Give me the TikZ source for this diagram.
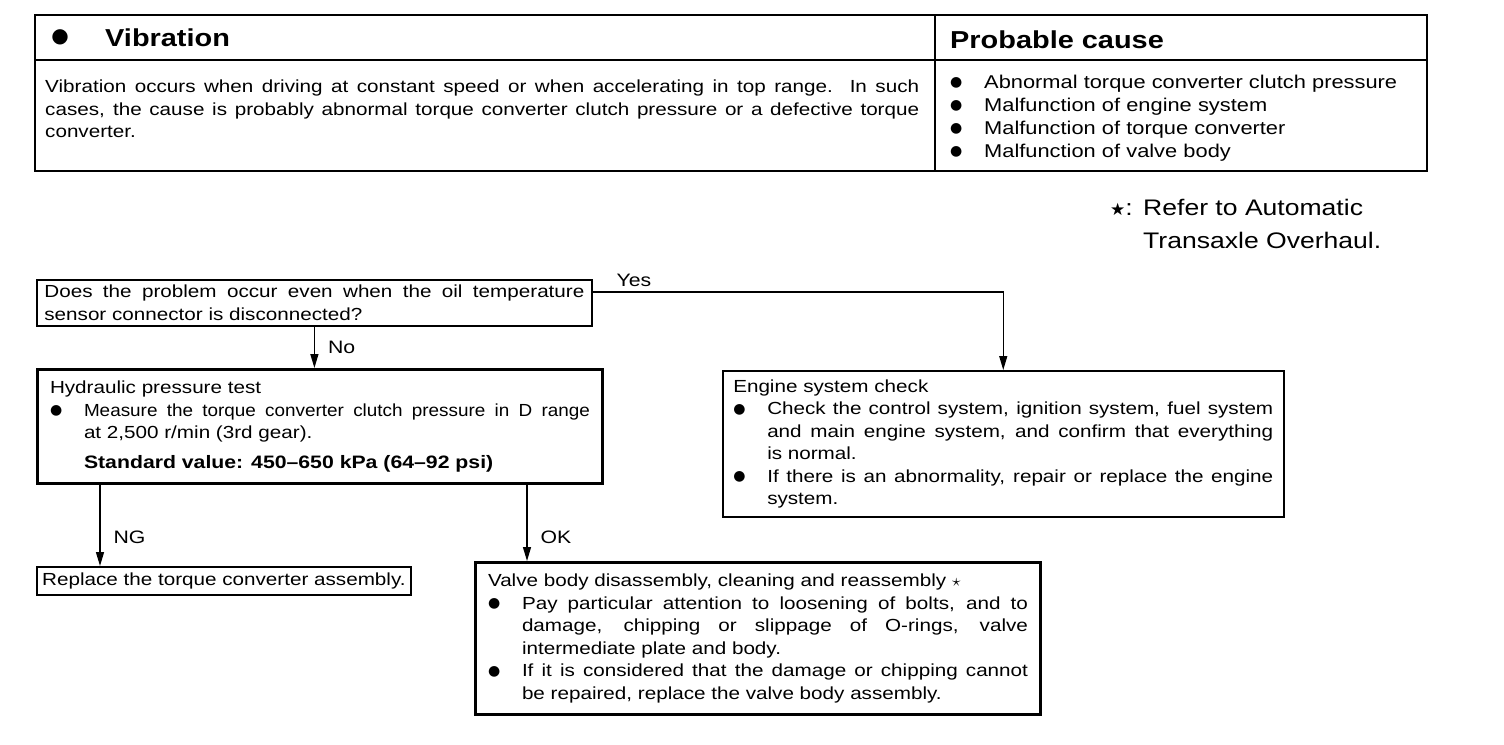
\documentclass[tikz,border=0pt]{standalone}
\usepackage{fontspec}
\setmainfont{Liberation Sans}[FakeStretch=1.18]
\newfontfamily\narrowfont{Liberation Sans}[FakeStretch=1.08]
\newfontfamily\symfont{DejaVu Sans}
\usetikzlibrary{arrows.meta,positioning}
\setlength\parindent{0pt}
\newlength\bulletind
\setlength\bulletind{34pt}
\newcommand\bdot{\raisebox{1.5pt}{\symfont\fontsize{14}{0}\selectfont ●}}
\newcommand\bitem{\par\hangindent=\bulletind\noindent\makebox[\bulletind][l]{\bdot}}
\newcommand\txtfont{\fontsize{17.5}{22.5}\selectfont}

\begin{document}
\begin{tikzpicture}[x=1pt, y=-1pt,
    frame/.style={draw, line width=2.5pt},
    txt/.style={inner sep=0pt, anchor=north west},
    head/.style={inner sep=0pt, anchor=west, font=\fontsize{24.5}{28}\bfseries},
    box/.style={rectangle, draw, line width=1.8pt, anchor=north west, text width=540pt, align=justify, font=\txtfont},
    heavybox/.style={box, line width=3pt},
    smallbox/.style={rectangle, draw, line width=1.8pt, anchor=north west, font=\txtfont, minimum width=374pt, minimum height=28pt, inner xsep=4pt},
    lbl/.style={font=\fontsize{18}{20}\selectfont, inner sep=1pt},
    arrow/.style={line width=1.3pt, -{Triangle[length=14pt,width=8pt]}}
]
\useasboundingbox (0,0) rectangle (1504,744);

% symptom table
\draw[frame] (35,15) rectangle (1427,171);
\draw[line width=2pt] (35,60) -- (1427,60);
\draw[line width=1.5pt] (935,15) -- (935,171);
\node[inner sep=0pt, anchor=center, font=\symfont\fontsize{20}{20}\selectfont] (dot) at (60,37) {●};
\node[head] (title) at (105,38) {Vibration};
\node[head] (cause) at (950,40) {Probable cause};
\node[txt, text width=874pt, align=justify, font=\txtfont] (desc) at (45,80)
  {Vibration occurs when driving at constant speed or when accelerating in top range.\ \ In such\linebreak
   cases, the cause is probably abnormal torque converter clutch pressure or a defective torque\linebreak
   converter.};
\node[txt, text width=470pt, align=left, font=\fontsize{18.5}{23}\selectfont] (causes) at (950,65)
  {\bitem Abnormal torque converter clutch pressure
   \bitem Malfunction of engine system
   \bitem Malfunction of torque converter
   \bitem Malfunction of valve body\par};

% note
\node[txt, align=left, font=\fontsize{22.5}{33}\selectfont] (note) at (1110,199)
  {\makebox[33pt][l]{{\symfont\fontsize{17}{17}\selectfont ★}:}Refer to Automatic\\\hspace*{33pt}Transaxle Overhaul.};

% flow boxes
\node[box, inner xsep=7.5pt, minimum height=46pt] (q) at (36,279)
  {Does the problem occur even when the oil temperature\linebreak sensor connector is disconnected?};
\node[heavybox, inner xsep=12.5pt, minimum height=114pt] (hyd) at (36,368)
  {Hydraulic pressure test
   \bitem{\narrowfont Measure the torque converter clutch pressure in D range}\linebreak at 2,500 r/min (3rd gear).
   \par\vspace{7pt}\hspace*{\bulletind}{\fontsize{18}{22}\bfseries Standard value: 450--650 kPa (64--92 psi)}\par};
\node[box, line width=1.5pt, inner xsep=10.5pt, minimum height=146pt] (eng) at (722,370)
  {Engine system check
   \bitem Check the control system, ignition system, fuel system\linebreak and main engine system, and confirm that everything\linebreak is normal.
   \bitem If there is an abnormality, repair or replace the engine\linebreak system.\par};
\node[smallbox] (rep) at (36,566) {Replace the torque converter assembly.};
\node[heavybox, inner xsep=12.5pt, minimum height=152pt] (valve) at (474,561)
  {Valve body disassembly, cleaning and reassembly $\star$
   \bitem Pay particular attention to loosening of bolts, and to\linebreak damage, chipping or slippage of O-rings, valve\linebreak intermediate plate and body.
   \bitem If it is considered that the damage or chipping cannot\linebreak be repaired, replace the valve body assembly.\par};

% connectors
\coordinate (ngin) at ([xshift=64pt]rep.north west);
\coordinate (okin) at ([xshift=53pt]valve.north west);
\draw[arrow] ([yshift=11pt]q.east) -| node[lbl, pos=0.05, above=4pt] (yes) {Yes} (eng.north);
\draw[arrow] (q.south) -- node[lbl, right=12pt] (no) {No} (q.south |- hyd.north);
\draw[arrow] (hyd.south -| ngin) -- node[lbl, pos=0.64, right=12pt] (ng) {NG} (ngin);
\draw[arrow] (hyd.south -| okin) -- node[lbl, pos=0.69, right=12pt] (ok) {OK} (okin);

\end{tikzpicture}
\end{document}
